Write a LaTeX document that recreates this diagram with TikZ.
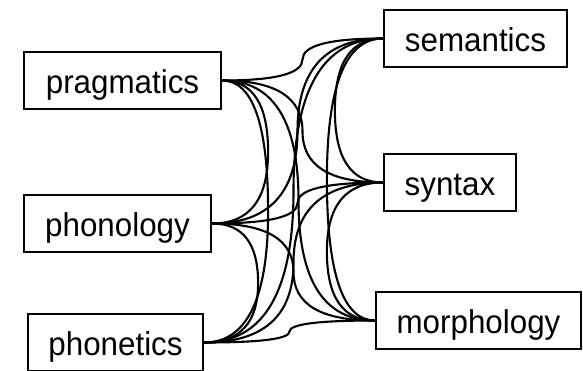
\documentclass[tikz,border=0pt]{standalone}
\usepackage{fontspec}
\setmainfont{Liberation Sans}[FakeStretch=0.95]
\usetikzlibrary{calc}

% Curved link: two quadratic pieces through a vertical leg at x = #3
% (start -> corner (#3, y_start) -> middle of leg -> corner (#3, y_end) -> end)
\newcommand\routedlink[3]{%
  \draw[link] let \p1=(#1), \p2=(#2) in
    (\p1) .. controls ($(\p1)!2/3!(#3,\y1)$)
              and ($(#3,{(\y1+\y2)/2})!2/3!(#3,\y1)$) .. (#3,{(\y1+\y2)/2})
          .. controls ($(#3,{(\y1+\y2)/2})!2/3!(#3,\y2)$)
              and ($(\p2)!2/3!(#3,\y2)$) .. (\p2);}

\tikzset{
  box/.style={draw, line width=2.2pt, inner sep=0pt, minimum height=57pt,
    text height=26pt, text depth=0pt,
    font=\fontsize{33}{38}\selectfont},
  link/.style={line width=2.1pt, line cap=round}
}

\begin{document}
\begin{tikzpicture}[x=1pt,y=-1pt]
\useasboundingbox (0,0) rectangle (583,370);

% left column
\node[box, minimum width=197pt] (prag)  at (122.5,80.5)  {pragmatics};
\node[box, minimum width=187pt] (phon)  at (117.5,223.5) {phonology};
\node[box, minimum width=175pt] (phont) at (115.5,342.5) {phonetics};
% right column
\node[box, minimum width=183pt] (sem)   at (475.5,38.5)  {semantics};
\node[box, minimum width=132pt] (syn)   at (450,182.5)   {syntax};
\node[box, minimum width=205pt] (morph) at (478.5,320.5) {morphology};

% links across the columns, vertical leg halfway
\foreach \a in {prag,phon,phont}
  \foreach \b in {sem,syn,morph}
    \routedlink{\a.east}{\b.west}{{(\x1+\x2)/2}};

% links within the left column, leg to the right
\routedlink{prag.east}{phon.east}{{max(\x1,\x2)+46pt}}
\routedlink{prag.east}{phont.east}{{max(\x1,\x2)+46pt}}
\routedlink{phon.east}{phont.east}{{max(\x1,\x2)+46pt}}

% links within the right column, leg to the left
\routedlink{sem.west}{syn.west}{{min(\x1,\x2)-48pt}}
\routedlink{sem.west}{morph.west}{{min(\x1,\x2)-48pt}}
\routedlink{syn.west}{morph.west}{{min(\x1,\x2)-48pt}}
\end{tikzpicture}
\end{document}
